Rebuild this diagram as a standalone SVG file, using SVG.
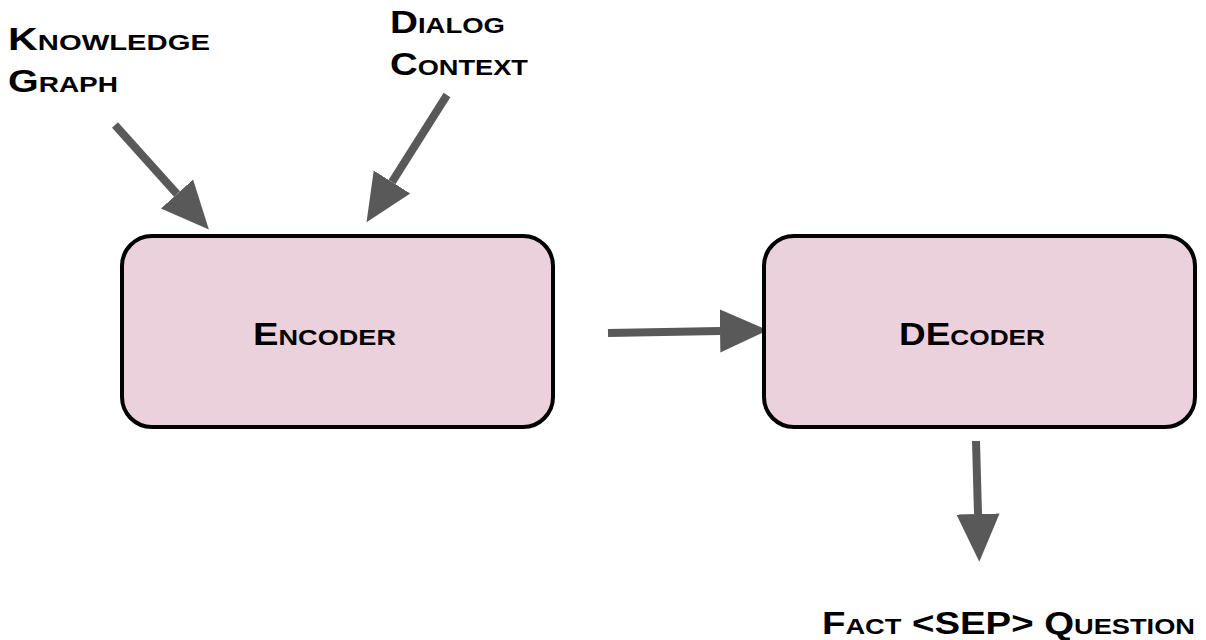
<svg xmlns="http://www.w3.org/2000/svg" width="1206" height="640" viewBox="0 0 1206 640">
<style>
.box{fill:#ead1dc;stroke:#000;stroke-width:4}
.lbl{font-family:"Liberation Sans",Arial,sans-serif;font-weight:bold;font-variant:small-caps;font-size:31px;fill:#000}
.edge{stroke:#595959;stroke-width:8;fill:none;marker-end:url(#ah)}
</style>
<defs>
<marker id="ah" markerUnits="userSpaceOnUse" markerWidth="50" markerHeight="50" viewBox="0 -22 44 44" refX="0" refY="0" orient="auto">
<path d="M0,-19 L42,0 L0,19 z" fill="#595959"/>
</marker>
</defs>
<rect width="1206" height="640" fill="#fff"/>
<g id="connectors">
<line class="edge" x1="115" y1="125" x2="177" y2="194"/>
<line class="edge" x1="447" y1="95" x2="392" y2="182"/>
<line class="edge" x1="608" y1="333" x2="720" y2="331"/>
<line class="edge" x1="976" y1="441" x2="978" y2="514"/>
</g>
<g id="encoder">
<rect class="box" x="122" y="236" width="431" height="191" rx="30" ry="30"/>
<text class="lbl" x="253" y="345" textLength="143" lengthAdjust="spacingAndGlyphs">Encoder</text>
</g>
<g id="decoder">
<rect class="box" x="764" y="236" width="431" height="191" rx="30" ry="30"/>
<text class="lbl" x="899" y="345" textLength="146" lengthAdjust="spacingAndGlyphs">DEcoder</text>
</g>
<g id="knowledge-graph">
<text class="lbl" x="8" y="50" textLength="202" lengthAdjust="spacingAndGlyphs">Knowledge</text>
<text class="lbl" x="8" y="92" textLength="110" lengthAdjust="spacingAndGlyphs">Graph</text>
</g>
<g id="dialog-context">
<text class="lbl" x="390" y="33" textLength="115" lengthAdjust="spacingAndGlyphs">Dialog</text>
<text class="lbl" x="390" y="75" textLength="138" lengthAdjust="spacingAndGlyphs">Context</text>
</g>
<g id="output">
<text class="lbl" x="822" y="634" textLength="373" lengthAdjust="spacingAndGlyphs">Fact &lt;SEP&gt; Question</text>
</g>
</svg>
